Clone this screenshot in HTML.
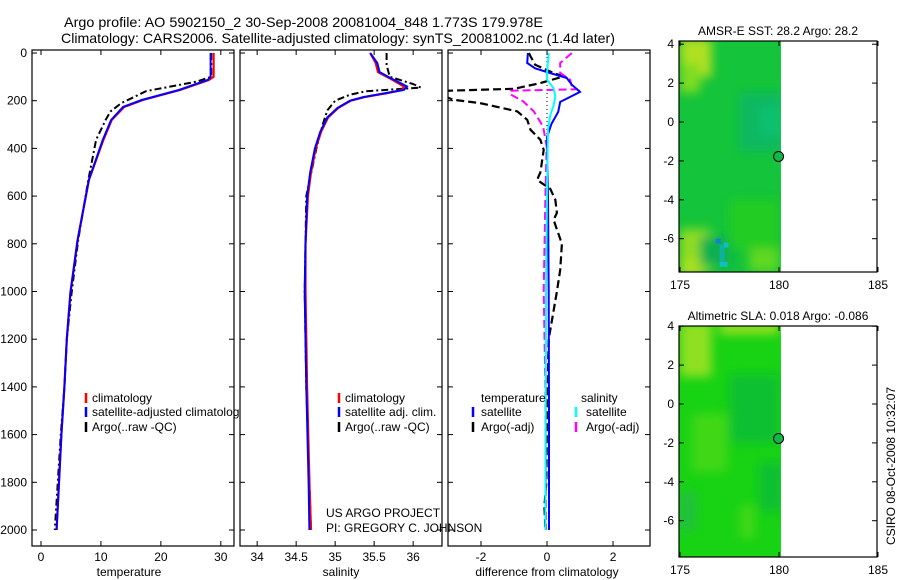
<!DOCTYPE html>
<html><head><meta charset="utf-8">
<style>
html,body{margin:0;padding:0;background:#fff;}
svg{display:block;font-family:"Liberation Sans",sans-serif;}
text{font-size:12px;fill:#000;}
</style></head>
<body>
<svg id="chart" width="900" height="580" viewBox="0 0 900 580" xmlns="http://www.w3.org/2000/svg">
<defs>
<clipPath id="c1"><rect x="32" y="50" width="202" height="496"/></clipPath>
<clipPath id="c2"><rect x="240" y="50" width="202" height="496"/></clipPath>
<clipPath id="c3"><rect x="448" y="50" width="202" height="496"/></clipPath>
<clipPath id="cm1"><rect x="679" y="41" width="198" height="231"/></clipPath>
<clipPath id="cm2"><rect x="679" y="326" width="198" height="231"/></clipPath>
<clipPath id="clipLeg"><rect x="0" y="0" width="240" height="580"/></clipPath>
<filter id="bl" x="-50%" y="-50%" width="200%" height="200%"><feGaussianBlur stdDeviation="5"/></filter>
</defs>
<text x="64" y="27" style="font-size:14px" textLength="479" lengthAdjust="spacingAndGlyphs">Argo profile: AO 5902150_2 30-Sep-2008 20081004_848 1.773S 179.978E</text>
<text x="61" y="43" style="font-size:14px" textLength="554" lengthAdjust="spacingAndGlyphs">Climatology: CARS2006. Satellite-adjusted climatology: synTS_20081002.nc (1.4d later)</text>
<g id="plots"></g>
</svg>
<script>
// ---- profile data (depth in dbar) ----
const tDepth = [0,100,113,155,197,226,281,365,532,784,1006,1200,1400,1600,1800,2000];
const tClim  = [28.8,28.8,28.0,23.2,17.0,13.9,11.8,10.4,8.0,6.1,4.9,4.3,3.9,3.4,3.0,2.6];
const tSat   = [28.3,28.3,27.8,23.0,16.8,13.7,11.7,10.3,8.0,6.1,4.9,4.3,3.9,3.4,3.0,2.6];
const tArgoDepth = [0,100,120,160,196,210,245,280,322,364,532,784,1006,1200,1400,1600,1800,2000];
const tArgo      = [28.4,28.4,26.0,17.5,14.6,13.4,11.6,10.8,10.0,9.2,7.9,6.2,5.1,4.3,3.9,3.3,2.8,2.3];

const sDepth = [0,42,80,110,140,155,170,185,200,230,270,330,400,500,600,800,1000,1400,1800,2000];
const sClim  = [35.45,35.52,35.55,35.72,35.88,35.86,35.64,35.38,35.2,35.04,34.91,34.82,34.75,34.69,34.65,34.62,34.62,34.64,34.67,34.69];
const sSat   = [35.45,35.54,35.57,35.74,35.92,35.88,35.62,35.36,35.19,35.03,34.9,34.81,34.74,34.68,34.64,34.62,34.61,34.63,34.66,34.67];
const sArgoDepth = [0,50,100,130,145,160,175,200,240,300,400,600,1000,1400,1800,2000];
const sArgo      = [35.66,35.66,35.7,36.0,36.1,35.4,35.19,35.0,34.9,34.84,34.76,34.63,34.61,34.63,34.67,34.69];

const dTempSatDepth = [0,42,64,84,105,133,163,191,205,247,296,352,600,1000,1500,2000];
const dTempSat      = [-0.58,-0.6,-0.36,0.09,0.6,0.75,1.0,0.6,0.4,0.34,0.14,0.0,0.03,0.05,0.06,0.06];
const dTempArgoDepth = [0,14,49,84,98,126,150,160,196,210,245,280,322,364,406,500,532,570,615,670,700,800,910,1000,1200,1500,1800,1900,2000];
const dTempArgo      = [-0.55,-0.5,-0.36,0.2,0.5,-0.2,-1.0,-3.5,-2.85,-2.03,-0.9,-0.6,-0.5,-0.2,-0.1,-0.2,-0.3,0.1,0.25,0.3,0.2,0.45,0.4,0.3,0.05,0.0,-0.02,-0.08,-0.05];
const dSalSatDepth = [0,84,112,148,183,220,260,320,600,1000,1500,2000];
const dSalSat      = [0.05,0.0,0.0,0.2,0.25,0.2,0.1,0.03,0.0,-0.03,-0.04,-0.05];
const dSalArgoDepth = [0,42,84,112,140,152,158,174,203,245,308,392,600,1000,1400,2000];
const dSalArgo      = [0.75,0.4,0.4,0.7,0.75,0.9,-1.1,-1.1,-0.72,-0.4,-0.12,-0.01,-0.05,-0.1,-0.05,-0.03];

const depthTicks = [0,200,400,600,800,1000,1200,1400,1600,1800,2000];
const tTicks = [0,10,20,30];
const sTicks = [34,34.5,35,35.5,36];
const sTickLabels = ["34","34.5","35","35.5","36"];
const dTicks = [-2,0,2];
const lonTicks = [175,180,185];
const latTicks = [4,2,0,-2,-4,-6];
const floatLon = 179.978, floatLat = -1.773;

const NS = "http://www.w3.org/2000/svg";
const root = document.getElementById('plots');
function mk(tag, attrs, parent){
  const e = document.createElementNS(NS, tag);
  for (const k in attrs) e.setAttribute(k, attrs[k]);
  (parent||root).appendChild(e);
  return e;
}
const yD = d => 53 + d * 47.7 / 200;

function panel(x0, xmin, xmax, name, clip){
  const w = 202, top = 50, bot = 546;
  const sx = v => x0 + (v - xmin) / (xmax - xmin) * w;
  const g = mk('g', {});
  
  
  const r = mk('rect', {x:x0, y:top, width:w, height:bot-top, fill:'none', stroke:'#000', 'stroke-width':1.2}, g);
  
  
  depthTicks.forEach(d => {
    mk('line', {x1:x0, x2:x0+5, y1:yD(d), y2:yD(d), stroke:'#000'}, g);
    mk('line', {x1:x0+w-5, x2:x0+w, y1:yD(d), y2:yD(d), stroke:'#000'}, g);
  });
  return {g, sx, clip};
}
function xticks(p, ticks, labels, name){
  ticks.forEach((t,i) => {
    const x = p.sx(t);
    mk('line', {x1:x, x2:x, y1:50, y2:55, stroke:'#000'}, p.g);
    mk('line', {x1:x, x2:x, y1:541, y2:546, stroke:'#000'}, p.g);
    const tx = mk('text', {x:x, y:561, 'text-anchor':'middle'}, p.g);
    tx.textContent = labels[i];
    
    
  });
}
function series(p, depths, vals, color, dash, width, name){
  const pts = depths.map((d,i) => p.sx(vals[i]).toFixed(1) + ',' + yD(d).toFixed(1)).join(' ');
  const l = mk('polyline', {points:pts, fill:'none', stroke:color, 'stroke-width':width||2, 'stroke-dasharray':dash||'none', 'clip-path':'url(#'+p.clip+')'}, p.g);
  
  
}
function txt(x, y, s, name, parent, extra){
  const t = mk('text', Object.assign({x:x, y:y}, extra||{}), parent);
  t.textContent = s;
  
  
  return t;
}
function legMark(x, y, color, parent, name){
  const l = mk('line', {x1:x, x2:x, y1:y-10, y2:y, stroke:color, 'stroke-width':2.5}, parent);
  
  
}

// Panel 1: temperature
const p1 = panel(32, -1.5, 32.2, 'temperature-panel', 'c1');
depthTicks.forEach(d => txt(27, yD(d)+4, String(d), 'depth-tick-label', p1.g, {'text-anchor':'end'}));
xticks(p1, tTicks, tTicks.map(String), 'temperature-x');
series(p1, tArgoDepth, tArgo, '#000', '7,3,2,3', 2, 'temp-argo-line');
series(p1, tDepth, tClim, '#f00', 'none', 2.2, 'temp-climatology-line');
series(p1, tDepth, tSat, '#00f', 'none', 2, 'temp-satellite-line');
txt(129, 576, 'temperature', 'temperature-axis-title', p1.g, {'text-anchor':'middle'});
legMark(86, 403, '#f00', p1.g, 'legend-climatology-marker');
legMark(86, 417, '#00f', p1.g, 'legend-satellite-marker');
legMark(86, 432, '#000', p1.g, 'legend-argo-marker');
const lg1 = mk('g', {'clip-path':'url(#clipLeg)'}, p1.g);
txt(92, 402, 'climatology', 'legend-climatology', lg1);
txt(92, 416, 'satellite-adjusted climatology', 'legend-satellite-adjusted', lg1);
txt(92, 431, 'Argo(..raw -QC)', 'legend-argo', lg1);

// Panel 2: salinity
const p2 = panel(240, 33.78, 36.37, 'salinity-panel', 'c2');
xticks(p2, sTicks, sTickLabels, 'salinity-x');
series(p2, sArgoDepth, sArgo, '#000', '7,3,2,3', 2, 'sal-argo-line');
series(p2, sDepth, sClim, '#f00', 'none', 2.2, 'sal-climatology-line');
series(p2, sDepth, sSat, '#00f', 'none', 2, 'sal-satellite-line');
txt(341, 576, 'salinity', 'salinity-axis-title', p2.g, {'text-anchor':'middle'});
legMark(339, 403, '#f00', p2.g, 'legend-climatology-marker');
legMark(339, 417, '#00f', p2.g, 'legend-satellite-marker');
legMark(339, 432, '#000', p2.g, 'legend-argo-marker');
txt(345, 402, 'climatology', 'legend-climatology', p2.g);
txt(345, 416, 'satellite adj. clim.', 'legend-satellite-adj', p2.g);
txt(345, 431, 'Argo(..raw -QC)', 'legend-argo', p2.g);

// Panel 3: differences
const p3 = panel(448, -3, 3.12, 'difference-panel', 'c3');
xticks(p3, dTicks, dTicks.map(String), 'difference-x');
const zl = mk('line', {x1:p3.sx(0), x2:p3.sx(0), y1:yD(0), y2:yD(420), stroke:'#000', 'stroke-dasharray':'1,3'}, p3.g);


series(p3, dTempArgoDepth, dTempArgo, '#000', '8,4', 2.2, 'diff-temp-argo-line');
series(p3, dSalArgoDepth, dSalArgo, '#f0f', '8,4', 2, 'diff-sal-argo-line');
series(p3, dTempSatDepth, dTempSat, '#00f', 'none', 2, 'diff-temp-satellite-line');
series(p3, dSalSatDepth, dSalSat, '#0ff', 'none', 2, 'diff-sal-satellite-line');
txt(547, 576, 'difference from climatology', 'difference-axis-title', p3.g, {'text-anchor':'middle'});
txt(481, 402, 'temperature', 'legend-temperature-header', p3.g);
txt(581, 402, 'salinity', 'legend-salinity-header', p3.g);
legMark(473, 417, '#00f', p3.g, 'legend-temp-satellite-marker');
legMark(473, 432, '#000', p3.g, 'legend-temp-argo-marker');
legMark(576, 417, '#0ff', p3.g, 'legend-sal-satellite-marker');
legMark(576, 432, '#f0f', p3.g, 'legend-sal-argo-marker');
txt(481, 416, 'satellite', 'legend-temp-satellite', p3.g);
txt(481, 431, 'Argo(-adj)', 'legend-temp-argo', p3.g);
txt(586, 416, 'satellite', 'legend-sal-satellite', p3.g);
txt(586, 431, 'Argo(-adj)', 'legend-sal-argo', p3.g);
txt(326, 517, 'US ARGO PROJECT', 'project-label', root);
txt(326, 532, 'PI: GREGORY C. JOHNSON', 'pi-label', root);

// Maps
function map(top, y0, title, name, clip, patches, sharp, base){
  const g = mk('g', {});
  
  
  const lx = v => 680 + (v - 175) * 19.8;
  const ly = v => y0 - v * 19.45;
  const img = mk('g', {'clip-path':'url(#'+clip+')'}, g);
  const bg = mk('rect', {x:679, y:top, width:lx(180.1)-679, height:231, fill:base}, img);
  
  
  const pg = mk('g', {filter:'url(#bl)'}, img);
  patches.forEach(p => mk('rect', {x:lx(p[0]), y:ly(p[1]), width:p[2]*19.8, height:p[3]*19.45, fill:p[4]}, pg));
  sharp.forEach(p => mk('rect', {x:lx(p[0]), y:ly(p[1]), width:p[2]*19.8, height:p[3]*19.45, fill:p[4]}, img));
  mk('rect', {x:lx(180.1), y:top-5, width:120, height:245, fill:'#fff'}, img);
  const fr = mk('rect', {x:679, y:top, width:198, height:231, fill:'none', stroke:'#000', 'stroke-width':1.2}, g);
  
  
  lonTicks.forEach(t => {
    const x = lx(t);
    mk('line', {x1:x, x2:x, y1:top+231, y2:top+226, stroke:'#000'}, g);
    mk('line', {x1:x, x2:x, y1:top, y2:top+5, stroke:'#000'}, g);
    txt(x, top+248, String(t), 'longitude-tick-label', g, {'text-anchor':'middle'});
  });
  latTicks.forEach(t => {
    const y = ly(t);
    mk('line', {x1:679, x2:684, y1:y, y2:y, stroke:'#000'}, g);
    mk('line', {x1:872, x2:877, y1:y, y2:y, stroke:'#000'}, g);
    txt(674, y+4, String(t), 'latitude-tick-label', g, {'text-anchor':'end'});
  });
  txt(778, top-6, title, name + '-title', g, {'text-anchor':'middle'});
  const c = mk('circle', {cx:lx(floatLon), cy:ly(floatLat), r:5, fill:'#10b848', stroke:'#000', 'stroke-width':1}, g);
  
  
}
map(41, 122, 'AMSR-E SST: 28.2 Argo: 28.2', 'sst-map', 'cm1', [
  [175,4.3,1.6,2.0,'#b0e020'],[175,3,1,1.5,'#80dc20'],[178,1.5,2.2,3,'#10b860'],
  [179,0.8,1.2,1.5,'#10c070'],[175,-5.5,1.5,2.3,'#90dc20'],[176,-5.9,1.6,1.5,'#10b050'],
  [177.5,-4,2.5,2.5,'#20cc20'],[178.5,-6.5,1.5,1.2,'#60d820'],[175,-7,1,1,'#a8e020']
], [
  [176.8,-6.0,0.25,0.25,'#1080e0'],[177.2,-6.2,0.25,0.25,'#10c0c0'],[177,-6.3,0.25,1,'#10b0a0'],[177,-7.2,0.4,0.25,'#10c0c0']
], '#14c43a');
map(326, 404, 'Altimetric SLA: 0.018 Argo: -0.086', 'sla-map', 'cm2', [
  [175,4.2,1.6,2.8,'#90e020'],[177,4.2,3,0.6,'#a0e020'],[177.5,1.5,2.5,3.5,'#10c030'],
  [175.6,-0.5,1.8,3,'#40d818'],[179,-3,1.2,2.5,'#10c030'],[175,-4.5,0.8,2,'#20c040'],
  [178,-5.2,0.8,1.7,'#40d818']
], [], '#18d214');
txt(0, 0, 'CSIRO 08-Oct-2008 10:32:07', 'timestamp-label', root, {transform:'translate(895,545) rotate(-90)'});
</script>
</body></html>
